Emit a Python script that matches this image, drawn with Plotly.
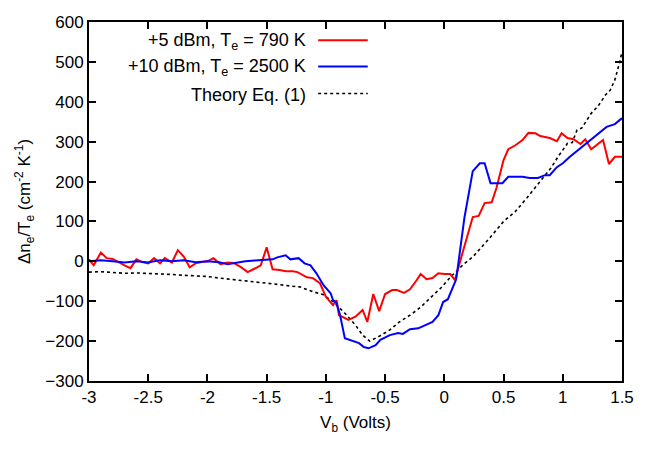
import plotly.graph_objects as go

# ---- data ----
red_x = [-3.0, -2.96, -2.9, -2.85, -2.8, -2.75, -2.7, -2.65, -2.6, -2.55, -2.5, -2.45, -2.4, -2.36,
         -2.3, -2.25, -2.2, -2.15, -2.1, -2.05, -2.0, -1.95, -1.89, -1.83, -1.78, -1.72, -1.66, -1.6,
         -1.55, -1.5, -1.45, -1.39, -1.34, -1.28, -1.24, -1.16, -1.11, -1.05, -1.0, -0.94, -0.91,
         -0.89, -0.81, -0.75, -0.69, -0.65, -0.6, -0.55, -0.5, -0.44, -0.4, -0.34, -0.29, -0.24,
         -0.2, -0.15, -0.1, -0.05, 0.0, 0.05, 0.09, 0.16, 0.24, 0.29, 0.34, 0.4, 0.44, 0.5, 0.54,
         0.6, 0.66, 0.71, 0.77, 0.81, 0.89, 0.95, 0.99, 1.04, 1.09, 1.15, 1.19, 1.24, 1.34, 1.39,
         1.44, 1.5]
red_y = [5, -10, 22, 8, 6, -3, -10, -17, 5, -2, -5, 8, -5, 8,
         -3, 28, 12, -15, -5, -2, 0, 8, -7, -3, -4, -14, -27, -18,
         -10, 35, -20, -22, -25, -25, -27, -40, -42, -55, -89, -110, -97,
         -135, -147, -139, -122, -152, -82, -125, -82, -72, -72, -79, -70, -50,
         -32, -45, -42, -30, -32, -32, -47, 28, 111, 114, 146, 148, 184, 254, 281,
         291, 304, 322, 321, 314, 309, 301, 321, 309, 306, 294, 306, 281, 304, 244,
         262, 262]

blue_x = [-3.0, -2.9, -2.8, -2.7, -2.6, -2.5, -2.4, -2.3, -2.2, -2.1, -2.0, -1.9, -1.83, -1.75,
          -1.68, -1.6, -1.51, -1.45, -1.41, -1.34, -1.3, -1.23, -1.18, -1.13, -1.08, -1.02, -0.96,
          -0.94, -0.91, -0.88, -0.84, -0.78, -0.72, -0.68, -0.64, -0.58, -0.54, -0.46, -0.39, -0.35,
          -0.29, -0.22, -0.16, -0.1, -0.05, -0.01, 0.03, 0.07, 0.1, 0.17, 0.24, 0.3, 0.34, 0.39,
          0.49, 0.54, 0.66, 0.72, 0.79, 0.85, 0.89, 0.95, 1.0, 1.06, 1.15, 1.23, 1.3, 1.37, 1.44, 1.5]
blue_y = [0, 3, 0, -3, 0, -3, 3, 0, 3, -2, 0, -2, -7, -3,
          0, 2, 3, 5, 10, 15, 5, 8, -5, -10, -30, -60, -80,
          -97, -105, -135, -193, -200, -205, -215, -218, -210, -197, -185, -180, -182,
          -170, -168, -160, -152, -135, -102, -95, -67, -45, 110, 226, 246, 246, 196,
          196, 212, 212, 209, 209, 216, 216, 236, 246, 262, 284, 304, 322, 337, 344, 359]

theory_x = [-3.0, -2.9, -2.8, -2.7, -2.6, -2.5, -2.4, -2.3, -2.2, -2.1, -2.0, -1.9, -1.8, -1.7,
            -1.6, -1.5, -1.4, -1.3, -1.22, -1.11, -1.02, -0.94, -0.84, -0.75, -0.69, -0.63, -0.55,
            -0.46, -0.38, -0.29, -0.2, -0.12, -0.03, 0.05, 0.1, 0.16, 0.24, 0.3, 0.39, 0.5, 0.6,
            0.7, 0.78, 0.85, 0.9, 0.96, 1.0, 1.04, 1.08, 1.12, 1.16, 1.24, 1.3, 1.36, 1.4, 1.44,
            1.48, 1.5]
theory_y = [-27, -26, -28, -30, -29, -30, -32, -33, -35, -36, -38, -42, -45, -48,
            -51, -55, -58, -62, -64, -76, -84, -101, -130, -160, -185, -200, -188,
            -172, -152, -135, -115, -92, -67, -40, -25, -8, 11, 30, 61, 100, 125,
            160, 190, 215, 234, 262, 280, 296, 298, 329, 334, 371, 390, 417, 429, 455,
            499, 525]

names = ["+5 dBm, T<sub>e</sub> = 790 K", "+10 dBm, T<sub>e</sub> = 2500 K", "Theory Eq. (1)"]
colors = ["#ff0000", "#0000ff", "#000000"]
dashes = ["solid", "solid", "3px,3px"]
widths = [2, 2, 1.6]

x_ticks = [-3, -2.5, -2, -1.5, -1, -0.5, 0, 0.5, 1, 1.5]
x_ticklabels = ["-3", "-2.5", "-2", "-1.5", "-1", "-0.5", "0", "0.5", "1", "1.5"]
y_ticks = [-300, -200, -100, 0, 100, 200, 300, 400, 500, 600]

series = [(red_x, red_y), (blue_x, blue_y), (theory_x, theory_y)]

fig = go.Figure()
for i in [2, 0, 1]:
    xs, ys = series[i]
    fig.add_trace(go.Scatter(x=xs, y=ys, mode="lines", name=names[i], showlegend=False,
                             line=dict(color=colors[i], width=widths[i], dash=dashes[i])))

font = dict(family="Liberation Sans, Arial, sans-serif", size=17, color="black")
leg_font = dict(family="Liberation Sans, Arial, sans-serif", size=18, color="black")

# gnuplot-style legend: text right-aligned, line sample to the right
leg_y = [0.945, 0.872, 0.797]
for i in range(3):
    fig.add_annotation(x=0.411, y=leg_y[i], xref="paper", yref="paper", text=names[i],
                       showarrow=False, xanchor="right", yanchor="middle", font=leg_font)
    fig.add_shape(type="line", xref="paper", yref="paper", x0=0.43, x1=0.523,
                  y0=leg_y[i] + 0.004, y1=leg_y[i] + 0.004,
                  line=dict(color=colors[i], width=widths[i], dash=dashes[i]))

axis_common = dict(showline=True, linecolor="black", linewidth=2, mirror="ticks",
                   ticks="inside", ticklen=7, tickwidth=1.5, tickcolor="black",
                   showgrid=False, zeroline=False, tickfont=font, automargin=False)

fig.update_xaxes(range=[-3, 1.5], tickvals=x_ticks, ticktext=x_ticklabels,
                 title=dict(text="V<sub>b</sub> (Volts)", font=font, standoff=10), **axis_common)
fig.update_yaxes(range=[-300, 600], tickvals=y_ticks,
                 title=dict(text="Δn<sub>e</sub>/T<sub>e</sub> (cm<sup>-2</sup> K<sup>-1</sup>)",
                            font=font, standoff=10), **axis_common)

fig.update_layout(width=654, height=458, margin=dict(l=81, r=40, t=14, b=85),
                  plot_bgcolor="white", paper_bgcolor="white", font=font)

fig.write_html("out.html")
